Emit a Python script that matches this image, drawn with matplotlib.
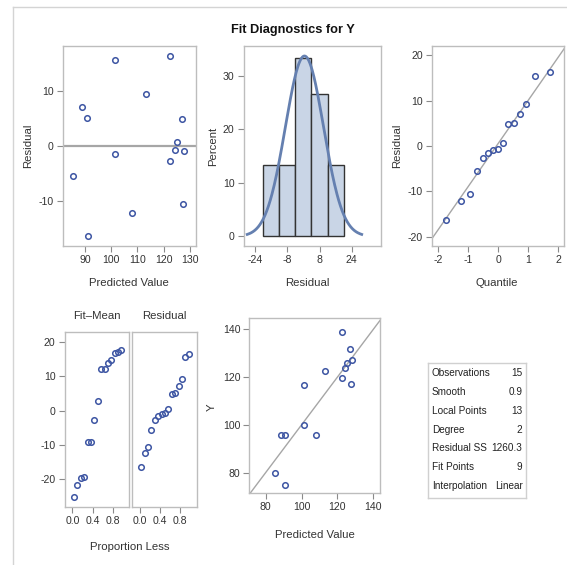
import numpy as np
import matplotlib
matplotlib.use("Agg")
import matplotlib.pyplot as plt
from matplotlib.lines import Line2D
from statistics import NormalDist

# --- datos ---
predicted = [85.3, 88.8, 90.9, 91.0, 101.3, 101.3, 107.8, 113.2,
             122.4, 122.4, 124.3, 125.2, 127.0, 127.9, 127.5]
residual = [-5.5, 7.0, 5.0, -16.3, 15.5, -1.5, -12.2, 9.3,
            16.3, -2.7, -0.7, 0.6, 4.8, -0.9, -10.6]
hist_edges = [-20, -12, -4, 4, 12, 20]

table_labels = ["Observations", "Smooth", "Local Points", "Degree",
                "Residual SS", "Fit Points", "Interpolation"]
table_values = ["15", "0.9", "13", "2", "1260.3", "9", "Linear"]

pred = np.array(predicted)
res = np.array(residual)
y_obs = pred + res
n = len(res)

W, H = 567, 565
plt.rcParams['font.family'] = ['Liberation Sans', 'DejaVu Sans']
plt.rcParams['axes.unicode_minus'] = False

FRAME = '#bdbdbd'
TICK = '#8a8a8a'
TXT = '#333333'
MARK = '#3d55a3'
REF = '#a6a6a6'
LAB = 8.2

fig = plt.figure(figsize=(W / 100, H / 100), dpi=100)


def panel(x0, y0, x1, y1):
    ax = fig.add_axes([x0 / W, 1 - y1 / H, (x1 - x0) / W, (y1 - y0) / H])
    for s in ax.spines.values():
        s.set_color(FRAME)
        s.set_linewidth(1)
    ax.tick_params(direction='out', length=4, width=0.8, color=TICK,
                   labelsize=7.6, labelcolor=TXT, pad=2.5)
    return ax


def xlab(ax, text, xc, yc):
    ax.set_xlabel(text, fontsize=LAB, color=TXT)
    ax.xaxis.set_label_coords(xc / W, 1 - yc / H, transform=fig.transFigure)
    ax.xaxis.label.set_va('center')


def ylab(ax, text, xc, yc):
    ax.set_ylabel(text, fontsize=LAB, color=TXT)
    ax.yaxis.set_label_coords(xc / W, 1 - yc / H, transform=fig.transFigure)
    ax.yaxis.label.set_va('center')


def dots(ax, x, y):
    ax.plot(x, y, 'o', ms=4, mfc='none', mec=MARK, mew=1.1, zorder=3)


# marco exterior
fig.add_artist(Line2D([13 / W, 1], [1 - 6.5 / H, 1 - 6.5 / H], color='#d4d4d4', lw=1))
fig.add_artist(Line2D([13 / W, 13 / W], [0, 1 - 6.5 / H], color='#d4d4d4', lw=1))

fig.text(293 / W, 1 - 30 / H, "Fit Diagnostics for Y", ha='center', va='center',
         fontsize=9.2, fontweight='bold', color='#111111')

# 1. residual vs predicted
ax1 = panel(62.7, 46, 196, 245.5)
ax1.axhline(0, color=REF, lw=1.6, zorder=1)
dots(ax1, pred, res)
ax1.set_xlim(81.5, 132.3)
ax1.set_ylim(-18.1, 18.1)
ax1.set_xticks([90, 100, 110, 120, 130])
ax1.set_yticks([-10, 0, 10])
xlab(ax1, "Predicted Value", 129, 283)
ylab(ax1, "Residual", 28, 146)

# 2. histograma de residuos
ax2 = panel(243.5, 46, 381, 245.5)
ax2.hist(res, bins=hist_edges, weights=np.full(n, 100.0 / n),
         facecolor='#c9d5e6', edgecolor='#333333', linewidth=1, zorder=2)
mu, sd = res.mean(), res.std(ddof=1)
xs = np.linspace(mu - 3 * sd, mu + 3 * sd, 200)
pdf = np.exp(-0.5 * ((xs - mu) / sd) ** 2) / (sd * np.sqrt(2 * np.pi))
ax2.plot(xs, pdf * 8 * 100, color='#6580b0', lw=2, zorder=3)
ax2.set_xlim(-29.7, 38.5)
ax2.set_ylim(-1.7, 35.6)
ax2.set_xticks([-24, -8, 8, 24])
ax2.set_yticks([0, 10, 20, 30])
xlab(ax2, "Residual", 307, 283)
ylab(ax2, "Percent", 213, 146)

# 3. QQ plot
ax3 = panel(431.7, 46, 564, 245.5)
q = [NormalDist().inv_cdf((i - 0.375) / (n + 0.25)) for i in range(1, n + 1)]
qx = np.array([-2.22, 2.2])
ax3.plot(qx, mu + sd * qx, color=REF, lw=1, zorder=1)
dots(ax3, q, np.sort(res))
ax3.set_xlim(-2.22, 2.2)
ax3.set_ylim(-21.9, 22)
ax3.set_xticks([-2, -1, 0, 1, 2])
ax3.set_yticks([-20, -10, 0, 10, 20])
xlab(ax3, "Quantile", 497, 283)
ylab(ax3, "Residual", 397, 146)

# 4. RF plot
prop = (np.arange(1, n + 1) - 0.5) / n
ax4a = panel(64.5, 331.7, 129.2, 506.7)
ax4b = panel(131.7, 331.7, 196.5, 506.7)
dots(ax4a, prop, np.sort(pred - pred.mean()))
dots(ax4b, prop, np.sort(res))
for ax in (ax4a, ax4b):
    ax.set_xlim(-0.155, 1.12)
    ax.set_ylim(-27.9, 22.9)
    ax.set_xticks([0.0, 0.4, 0.8])
    ax.set_xticklabels(["0.0", "0.4", "0.8"])
ax4a.set_yticks([-20, -10, 0, 10, 20])
ax4b.tick_params(axis='y', left=False, labelleft=False)
fig.text(96.7 / W, 1 - 315.7 / H, "Fit\u2013Mean", ha='center', va='center',
         fontsize=LAB, color=TXT)
fig.text(164.3 / W, 1 - 315.7 / H, "Residual", ha='center', va='center',
         fontsize=LAB, color=TXT)
fig.text(130 / W, 1 - 546.7 / H, "Proportion Less", ha='center', va='center',
         fontsize=LAB, color=TXT)

# 5. observado vs predicho
ax5 = panel(249.3, 318.3, 380, 492.7)
dg = np.array([60, 160])
ax5.plot(dg, dg, color=REF, lw=1, zorder=1)
dots(ax5, pred, y_obs)
ax5.set_xlim(70.9, 143.7)
ax5.set_ylim(71.6, 144.6)
ax5.set_xticks([80, 100, 120, 140])
ax5.set_yticks([80, 100, 120, 140])
xlab(ax5, "Predicted Value", 315, 535)
ylab(ax5, "Y", 211.7, 407)

# 6. tabla de estadisticas
axt = panel(428.3, 363.3, 525.5, 498.3)
axt.set_xticks([])
axt.set_yticks([])
axt.set_xlim(428.3, 525.5)
axt.set_ylim(498.3, 363.3)
for s in axt.spines.values():
    s.set_color('#d0d0d0')
for i, (lab, val) in enumerate(zip(table_labels, table_values)):
    yy = 373 + 18.85 * i
    axt.text(432, yy, lab, ha='left', va='center', fontsize=7.2, color='#222222')
    axt.text(522.5, yy, val, ha='right', va='center', fontsize=7.2, color='#222222')

fig.savefig("out.png", dpi=100, facecolor='white')
